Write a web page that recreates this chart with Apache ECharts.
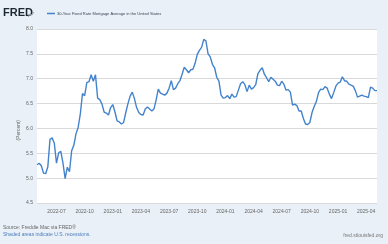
<!DOCTYPE html>
<html>
<head>
<meta charset="utf-8">
<style>
  html, body { margin: 0; padding: 0; background: #eaf0f7; }
  #chart { width: 388px; height: 244px; }
</style>
<script src="https://cdn.jsdelivr.net/npm/echarts@6/dist/echarts.min.js"></script>
</head>
<body>
<div id="chart"></div>
<script>
// weekly readings (Thursdays), first week 2022-05-05
const firstWeek = '2022-05-05'
const rates2022 = [5.27, 5.30, 5.25, 5.10, 5.09, 5.23, 5.78, 5.81, 5.70, 5.30, 5.51, 5.54, 5.30, 4.99,
  5.22, 5.13, 5.55, 5.66, 5.89, 6.02, 6.29, 6.70, 6.66, 6.92, 6.94, 7.08, 6.95, 7.08, 6.61, 6.58,
  6.49, 6.33, 6.31, 6.27, 6.42]
const rates2023 = [6.48, 6.33, 6.15, 6.13, 6.09, 6.12, 6.32, 6.50, 6.65, 6.73, 6.60, 6.42, 6.32,
  6.28, 6.27, 6.39, 6.43, 6.39, 6.35, 6.39, 6.57, 6.79, 6.71, 6.69, 6.67, 6.71, 6.81, 6.96, 6.78,
  6.81, 6.90, 6.96, 7.09, 7.23, 7.18, 7.12, 7.18, 7.19, 7.31, 7.49, 7.57, 7.63, 7.79, 7.76, 7.50,
  7.44, 7.29, 7.22, 7.03, 6.95, 6.67, 6.61]
const rates2024 = [6.62, 6.66, 6.60, 6.69, 6.63, 6.64, 6.77, 6.90, 6.94, 6.88, 6.74, 6.87, 6.79,
  6.82, 6.88, 7.10, 7.17, 7.22, 7.09, 7.02, 6.94, 7.03, 6.99, 6.95, 6.87, 6.86, 6.95, 6.89, 6.77,
  6.78, 6.73, 6.47, 6.49, 6.46, 6.35, 6.35, 6.20, 6.09, 6.08, 6.12, 6.32, 6.44, 6.54, 6.72, 6.79,
  6.78, 6.84, 6.81, 6.69, 6.60, 6.72, 6.85]
const rates2025 = [6.91, 6.93, 7.04, 6.96, 6.95, 6.89, 6.87, 6.85, 6.76, 6.63, 6.65, 6.67, 6.65,
  6.64, 6.62, 6.83, 6.81, 6.76, 6.76]
const quarterLabels = ['2022-07', '2022-10', '2023-01', '2023-04', '2023-07', '2023-10',
  '2024-01', '2024-04', '2024-07', '2024-10', '2025-01', '2025-04']
const yTicks = [4.5, 5.0, 5.5, 6.0, 6.5, 7.0, 7.5, 8.0]

const rates = [].concat(rates2022, rates2023, rates2024, rates2025)

// one category per week
const weeks = []
let t = new Date(firstWeek + 'T00:00:00Z')
for (let i = 0; i < rates.length; i++) {
  weeks.push(t.toISOString().slice(0, 10))
  t = new Date(t.getTime() + 7 * 86400000)
}

const chart = echarts.init(document.getElementById('chart'))
const narrow = '"Liberation Sans Narrow", "Liberation Sans", Arial, sans-serif'

chart.setOption({
  backgroundColor: '#eaf0f7',
  animation: false,
  grid: {
    left: 37,
    right: 11,
    top: 29,
    bottom: 41,
    show: true,
    backgroundColor: '#ffffff',
    borderWidth: 0
  },
  graphic: [
    {
      type: 'text', left: 3, top: 7,
      style: { text: 'FRED', font: 'bold 11px "Liberation Sans", Arial', fill: '#1d2733' }
    },
    {
      // little chart glyph next to the logo
      type: 'polyline', shape: { points: [[28, 17], [30, 14], [32, 15], [34, 12]] },
      style: { stroke: '#9aa9bb', lineWidth: 1, fill: null }
    },
    {
      type: 'line', shape: { x1: 47, y1: 13.5, x2: 55, y2: 13.5 },
      style: { stroke: '#4383cc', lineWidth: 1.5 }
    },
    {
      type: 'text', left: 57, top: 11.5,
      style: { text: '30-Year Fixed Rate Mortgage Average in the United States', font: '4px ' + narrow, fill: '#3a4654' }
    },
    {
      type: 'text', left: 16, top: 120, rotation: Math.PI / 2,
      style: { text: '(Percent)', font: '5px ' + narrow, fill: '#666', align: 'center', verticalAlign: 'middle' }
    },
    {
      type: 'text', left: 3, top: 225,
      style: { text: 'Source: Freddie Mac via FRED\u00ae', font: '5px ' + narrow, fill: '#666' }
    },
    {
      type: 'text', left: 3, top: 232,
      style: { text: 'Shaded areas indicate U.S. recessions.', font: '5px ' + narrow, fill: '#4a7dbb' }
    },
    {
      type: 'text', right: 5, top: 233,
      style: { text: 'fred.stlouisfed.org', font: '5px ' + narrow, fill: '#777' }
    }
  ],
  xAxis: {
    type: 'category',
    data: weeks,
    boundaryGap: false,
    axisLine: { show: false },
    axisTick: { show: false },
    splitLine: { show: false },
    axisLabel: {
      color: '#666',
      fontSize: 5,
      fontFamily: narrow,
      margin: 6,
      interval: (i, v) => quarterLabels.includes(v.slice(0, 7)) && +v.slice(8, 10) <= 7,
      formatter: v => v.slice(0, 7)
    }
  },
  yAxis: {
    type: 'value',
    min: yTicks[0],
    max: yTicks[yTicks.length - 1],
    interval: 0.5,
    axisLine: { show: false },
    axisTick: { show: false },
    axisLabel: {
      color: '#666',
      fontSize: 5,
      fontFamily: narrow,
      margin: 4,
      formatter: v => v.toFixed(1)
    },
    splitLine: { lineStyle: { color: '#d9d9d9', width: 1 } }
  },
  series: [
    {
      name: '30-Year Fixed Rate Mortgage Average in the United States',
      type: 'line',
      data: rates,
      showSymbol: false,
      lineStyle: { color: '#4383cc', width: 1.4 },
      itemStyle: { color: '#4383cc' }
    }
  ]
})
</script>
</body>
</html>
